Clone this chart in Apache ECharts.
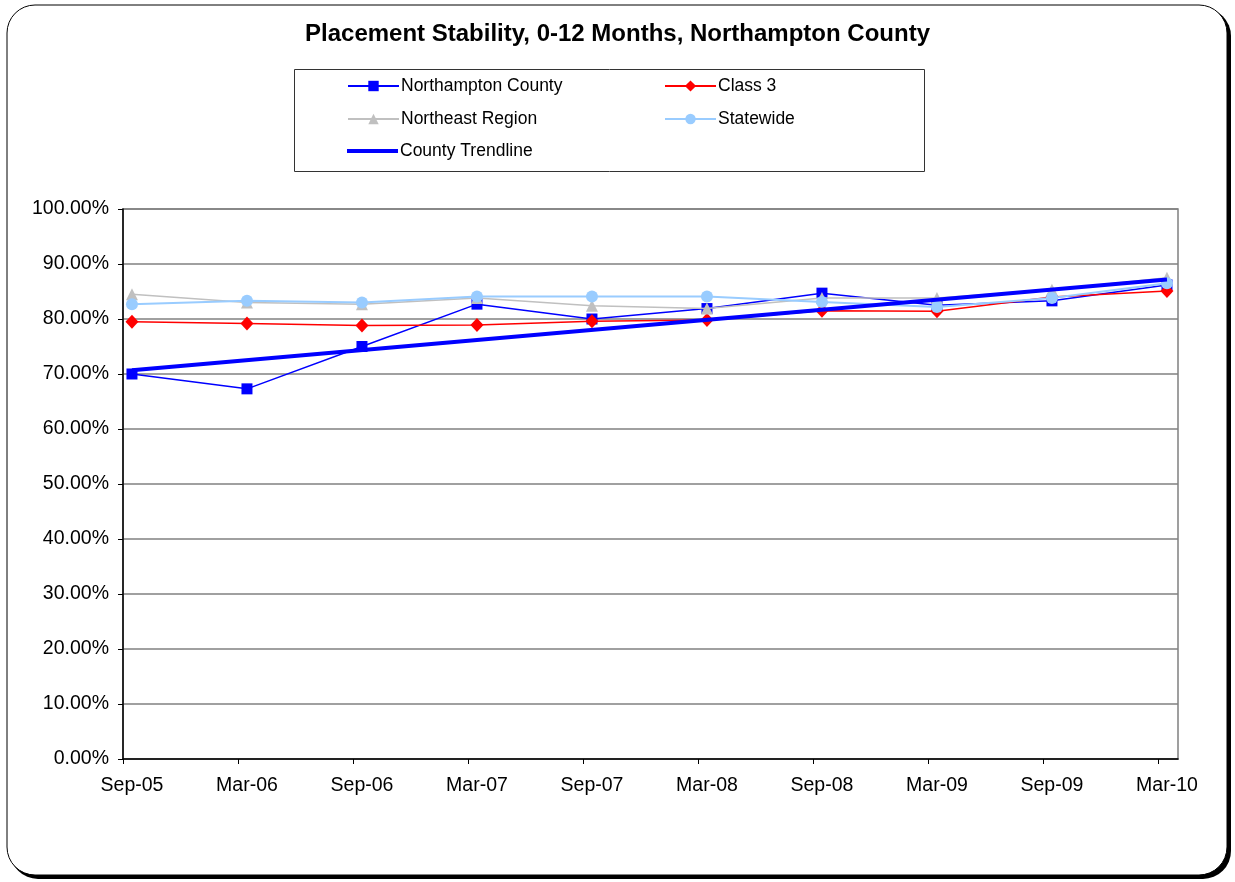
<!DOCTYPE html>
<html>
<head>
<meta charset="utf-8">
<script src="https://cdn.jsdelivr.net/npm/echarts@6/dist/echarts.min.js"></script>
<style>
  html, body { margin: 0; padding: 0; background: #fff; }
  #chart { width: 1235px; height: 882px; }
</style>
</head>
<body>
<div id="chart"></div>
<script>
// 数据
var months = ['Sep-05', 'Mar-06', 'Sep-06', 'Mar-07', 'Sep-07', 'Mar-08', 'Sep-08', 'Mar-09', 'Sep-09', 'Mar-10'];
var county = [70.0, 67.3, 75.0, 82.7, 80.0, 81.9, 84.7, 82.5, 83.3, 86.2];
var class3 = [79.5, 79.2, 78.8, 78.9, 79.6, 79.8, 81.5, 81.4, 84.0, 85.1];
var northeast = [84.5, 83.0, 82.7, 83.8, 82.4, 81.9, 83.8, 83.8, 85.3, 87.5];
var statewide = [82.7, 83.3, 83.0, 84.1, 84.1, 84.1, 83.1, 82.2, 83.8, 86.5];
// 趋势线两端
var trendEnds = [70.7, 87.2];

var font = '"Liberation Sans", Arial, sans-serif';

function pts(arr) {
    return arr.map(function (v, i) { return [i, v]; });
}

var myChart = echarts.init(document.getElementById('chart'));

var labelPos = months.map(function (m, i) { return i; });
var tickPos = months.map(function (m, i) { return i - 0.075; });

// 图例文字样式
var legText = { fontFamily: font, fontSize: 17.5, color: '#000', padding: [0, 0, 0, -3] };

var option = {
    backgroundColor: '#fff',
    animation: false,
    title: {
        text: 'Placement Stability, 0-12 Months, Northampton County',
        left: 'center',
        top: 17,
        textStyle: { fontFamily: font, fontSize: 24, fontWeight: 'bold', color: '#000' }
    },
    graphic: [
        // 外框阴影
        { type: 'rect', z: -10, shape: { x: 10, y: 8, width: 1221, height: 871, r: 28 }, style: { fill: '#000' } },
        { type: 'rect', z: -9, shape: { x: 7, y: 5, width: 1220, height: 870, r: 28 }, style: { fill: '#fff', stroke: '#000', lineWidth: 1 } },
        // 图例框
        { type: 'rect', z: -5, shape: { x: 294.5, y: 69.5, width: 630, height: 102 }, style: { fill: '#fff', stroke: '#333', lineWidth: 1 } }
    ],
    legend: [
        { data: ['Northampton County'], left: 342, top: 72, itemWidth: 51, itemHeight: 13, textStyle: legText },
        { data: ['Class 3'], left: 659, top: 72, itemWidth: 51, itemHeight: 14, textStyle: legText },
        { data: ['Northeast Region'], left: 342, top: 105, itemWidth: 51, itemHeight: 13, textStyle: legText },
        { data: ['Statewide'], left: 659, top: 105, itemWidth: 51, itemHeight: 13, textStyle: legText },
        { data: [{ name: 'County Trendline', icon: 'rect' }], left: 342, top: 137, itemWidth: 51, itemHeight: 4, textStyle: legText }
    ],
    grid: {
        left: 123, top: 209, right: 57, bottom: 123,
        show: true, borderColor: '#808080', borderWidth: 1.5, backgroundColor: 'transparent'
    },
    xAxis: {
        type: 'value',
        min: -0.078,
        max: 9.096,
        axisLine: { show: true, onZero: false, lineStyle: { color: '#000', width: 1.5 } },
        axisTick: { show: true, length: 5, customValues: tickPos, lineStyle: { color: '#000' } },
        splitLine: { show: false },
        axisLabel: {
            customValues: labelPos,
            margin: 17,
            fontFamily: font, fontSize: 19.5, color: '#000',
            formatter: function (v) { return months[Math.round(v)]; }
        }
    },
    yAxis: {
        type: 'value',
        min: 0,
        max: 100,
        interval: 10,
        axisLine: { show: true, onZero: false, lineStyle: { color: '#000', width: 1.5 } },
        axisTick: { show: true, length: 5, lineStyle: { color: '#000' } },
        splitLine: { show: true, lineStyle: { color: '#808080', width: 1.5 } },
        axisLabel: {
            margin: 14,
            fontFamily: font, fontSize: 19.5, color: '#000',
            formatter: function (v) { return v.toFixed(2) + '%'; }
        }
    },
    series: [
        {
            name: 'Northampton County', type: 'line', data: pts(county),
            symbol: 'rect', symbolSize: 11, z: 2,
            lineStyle: { color: '#0000ff', width: 1.5 },
            itemStyle: { color: '#0000ff' }
        },
        {
            name: 'Class 3', type: 'line', data: pts(class3),
            symbol: 'diamond', symbolSize: [13, 14], z: 3,
            lineStyle: { color: '#ff0000', width: 1.5 },
            itemStyle: { color: '#ff0000' }
        },
        {
            name: 'Northeast Region', type: 'line', data: pts(northeast),
            symbol: 'triangle', symbolSize: [12, 12], z: 4,
            lineStyle: { color: '#c0c0c0', width: 1.5 },
            itemStyle: { color: '#c0c0c0' }
        },
        {
            name: 'Statewide', type: 'line', data: pts(statewide),
            symbol: 'circle', symbolSize: 12, z: 5,
            lineStyle: { color: '#99ccff', width: 2 },
            itemStyle: { color: '#99ccff' }
        },
        {
            name: 'County Trendline', type: 'line',
            data: [[0, trendEnds[0]], [months.length - 1, trendEnds[1]]],
            symbol: 'none', z: 6,
            lineStyle: { color: '#0000ff', width: 4 },
            itemStyle: { color: '#0000ff' }
        }
    ]
};
myChart.setOption(option);
</script>
</body>
</html>
